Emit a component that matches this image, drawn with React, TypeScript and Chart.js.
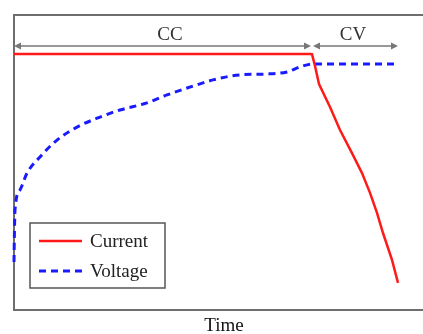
import React, { useEffect, useRef } from 'react';
import { Chart, registerables } from 'chart.js';

Chart.register(...registerables);

// ---- data (x: time in arbitrary units, y: normalised level 0..100) ----
const seriesNames = ['Current', 'Voltage'];
const xAxisTitle = 'Time';

const currentX = [0, 296, 298, 301, 305, 316, 326, 338, 348, 356, 363, 369, 378, 384];
const currentY = [86.8, 86.8, 86.7, 82.7, 76.6, 68.8, 61, 53.2, 46.4, 39.7, 32.9, 26.1, 17, 9.2];

const voltageX = [0, 0.3, 1, 6, 13, 26, 43, 63, 86, 106, 133, 153, 179, 199, 226, 253, 273, 286, 299, 381];
const voltageY = [16.3, 23.7, 33.9, 40.7, 46.4, 51.9, 57.6, 62, 65.4, 67.8, 70.2, 72.9, 75.9, 78, 79.7, 80, 80.7, 82.4, 83.4, 83.4];

const phaseNames = ['CC', 'CV'];
const phaseStart = [0, 299];
const phaseEnd = [297, 384];
const phaseLabelX = [156, 339];
const arrowLevel = 89.5;
const labelLevel = 91.5;

const xMin = 0;
const xMax = 420;
const yMin = 0;
const yMax = 100;

const FONT = '"Liberation Serif", "Times New Roman", serif';
const AXIS_COLOR = '#6e6e6e';
const CURRENT_COLOR = '#ff1a1a';
const VOLTAGE_COLOR = '#1a1aff';

function arrowHead(ctx: CanvasRenderingContext2D, x: number, y: number, dir: number) {
  const len = 7;
  const half = 3.5;
  ctx.beginPath();
  ctx.moveTo(x, y);
  ctx.lineTo(x - dir * len, y - half);
  ctx.lineTo(x - dir * len, y + half);
  ctx.closePath();
  ctx.fill();
}

const overlay = {
  id: 'overlay',
  afterDatasetsDraw(chart: any) {
    const { ctx, chartArea, scales } = chart;
    const x = scales.x;
    const y = scales.y;
    ctx.save();

    // phase arrows + labels
    const ay = y.getPixelForValue(arrowLevel);
    phaseNames.forEach((name, i) => {
      const x0 = x.getPixelForValue(phaseStart[i]);
      const x1 = x.getPixelForValue(phaseEnd[i]);
      ctx.strokeStyle = '#777777';
      ctx.fillStyle = '#777777';
      ctx.lineWidth = 1.5;
      ctx.beginPath();
      ctx.moveTo(x0 + 3, ay);
      ctx.lineTo(x1 - 3, ay);
      ctx.stroke();
      arrowHead(ctx, x0, ay, -1);
      arrowHead(ctx, x1, ay, 1);
      ctx.fillStyle = '#333333';
      ctx.font = '19px ' + FONT;
      ctx.textAlign = 'center';
      ctx.textBaseline = 'alphabetic';
      ctx.fillText(name, x.getPixelForValue(phaseLabelX[i]), y.getPixelForValue(labelLevel));
    });

    // legend box
    const left = chartArea.left + 16;
    const top = chartArea.bottom - 87;
    const w = 135;
    const h = 65;
    ctx.fillStyle = '#ffffff';
    ctx.fillRect(left, top, w, h);
    ctx.strokeStyle = '#555555';
    ctx.lineWidth = 1.5;
    ctx.strokeRect(left, top, w, h);
    const rows = [top + 18, top + 48];
    chart.data.datasets.forEach((ds: any, i: number) => {
      const ry = rows[i];
      ctx.strokeStyle = ds.borderColor;
      ctx.lineWidth = ds.borderWidth;
      ctx.setLineDash(ds.borderDash || []);
      ctx.beginPath();
      ctx.moveTo(left + 9, ry);
      ctx.lineTo(left + 52, ry);
      ctx.stroke();
      ctx.setLineDash([]);
      ctx.fillStyle = '#222222';
      ctx.font = '19px ' + FONT;
      ctx.textAlign = 'left';
      ctx.textBaseline = 'middle';
      ctx.fillText(ds.label, left + 60, ry + 1);
    });

    ctx.restore();
  },
};

export default function App() {
  const ref = useRef<HTMLCanvasElement>(null);

  useEffect(() => {
    if (!ref.current) return;
    const hidden = {
      ticks: { display: false },
      grid: { display: false, drawTicks: false },
      border: { display: true, color: AXIS_COLOR, width: 2 },
    };
    const chart = new Chart(ref.current, {
      type: 'line',
      data: {
        datasets: [
          {
            label: seriesNames[0],
            data: currentX.map((v, i) => ({ x: v, y: currentY[i] })),
            borderColor: CURRENT_COLOR,
            borderWidth: 2.5,
            pointRadius: 0,
            tension: 0,
            clip: 5,
          } as any,
          {
            label: seriesNames[1],
            data: voltageX.map((v, i) => ({ x: v, y: voltageY[i] })),
            borderColor: VOLTAGE_COLOR,
            borderWidth: 3,
            borderDash: [7, 5],
            pointRadius: 0,
            cubicInterpolationMode: 'monotone',
            clip: 5,
          } as any,
        ],
      },
      options: {
        responsive: false,
        animation: false,
        devicePixelRatio: 1,
        layout: { padding: { left: 14, top: 15, right: 6, bottom: 0 } },
        plugins: { legend: { display: false }, tooltip: { enabled: false } },
        scales: {
          x: {
            type: 'linear',
            min: xMin,
            max: xMax,
            ...hidden,
            title: {
              display: true,
              text: xAxisTitle,
              color: '#111111',
              font: { family: FONT, size: 19, lineHeight: 1 },
              padding: { top: 7, bottom: -2 },
            },
          },
          xTop: {
            type: 'linear',
            position: 'top',
            min: xMin,
            max: xMax,
            ...hidden,
          },
          y: {
            type: 'linear',
            min: yMin,
            max: yMax,
            ...hidden,
          },
        },
      } as any,
      plugins: [overlay],
    });
    return () => chart.destroy();
  }, []);

  return (
    <div
      style={{
        position: 'fixed',
        left: 0,
        top: 0,
        width: 423,
        height: 334,
        overflow: 'hidden',
        background: '#ffffff',
      }}
    >
      <canvas ref={ref} width={440} height={334} style={{ display: 'block' }} />
    </div>
  );
}
